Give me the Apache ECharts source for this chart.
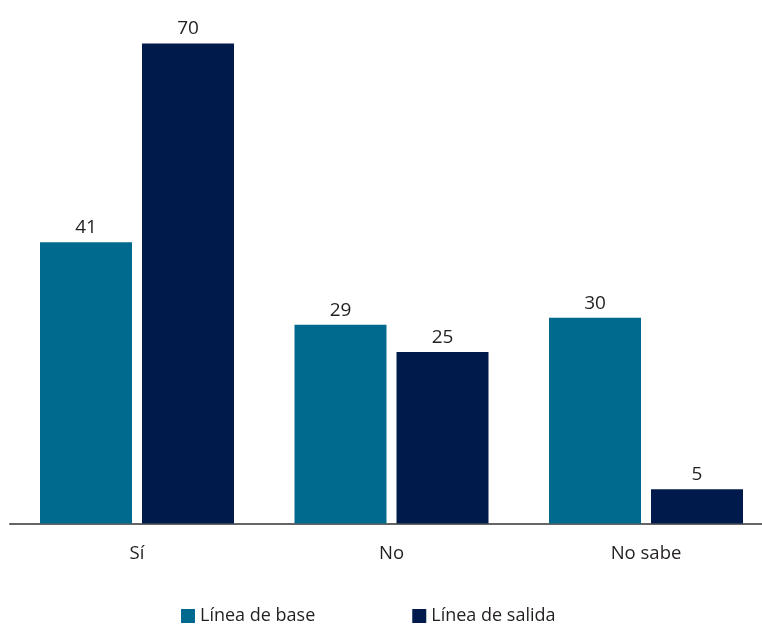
<!DOCTYPE html>
<html><head><meta charset="utf-8">
<script src="https://cdn.jsdelivr.net/npm/echarts@6/dist/echarts.min.js"></script>
<style>html,body{margin:0;padding:0;background:#fff}#c{width:762px;height:626px}</style>
</head><body><div id="c"></div>
<script>
const categories = ['Sí', 'No', 'No sabe'];
const seriesNames = ['Línea de base', 'Línea de salida'];
const baseValues = [41, 29, 30];
const salidaValues = [70, 25, 5];
const colors = ['#006A8E', '#001B4B'];
const font = '"Open Sans", sans-serif';
const chart = echarts.init(document.getElementById('c'));
chart.setOption({
  animation: false,
  textStyle: { fontFamily: font },
  grid: { left: 9.75, width: 763.5, top: 43.5, height: 480, outerBoundsMode: 'none', containLabel: false },
  legend: {
    bottom: -4, left: 176, itemWidth: 14, itemHeight: 14, itemGap: 97,
    icon: 'rect',
    textStyle: { fontSize: 18, color: '#231F20', fontFamily: font },
    data: seriesNames
  },
  xAxis: {
    type: 'category', data: categories,
    axisLine: { lineStyle: { color: '#333', width: 1.5 } },
    axisTick: { show: false },
    axisLabel: { fontSize: 18.5, color: '#231F20', margin: 21, fontFamily: font }
  },
  yAxis: { type: 'value', min: 0, max: 70, show: false, splitLine: { show: false } },
  series: [
    { name: seriesNames[0], type: 'bar', data: baseValues, barWidth: 92, barGap: '10.87%',
      itemStyle: { color: colors[0] },
      label: { show: true, position: 'top', distance: 5, fontSize: 19, color: '#231F20', fontFamily: font } },
    { name: seriesNames[1], type: 'bar', data: salidaValues, barWidth: 92, barGap: '10.87%',
      itemStyle: { color: colors[1] },
      label: { show: true, position: 'top', distance: 5, fontSize: 19, color: '#231F20', fontFamily: font } }
  ]
});
</script></body></html>
